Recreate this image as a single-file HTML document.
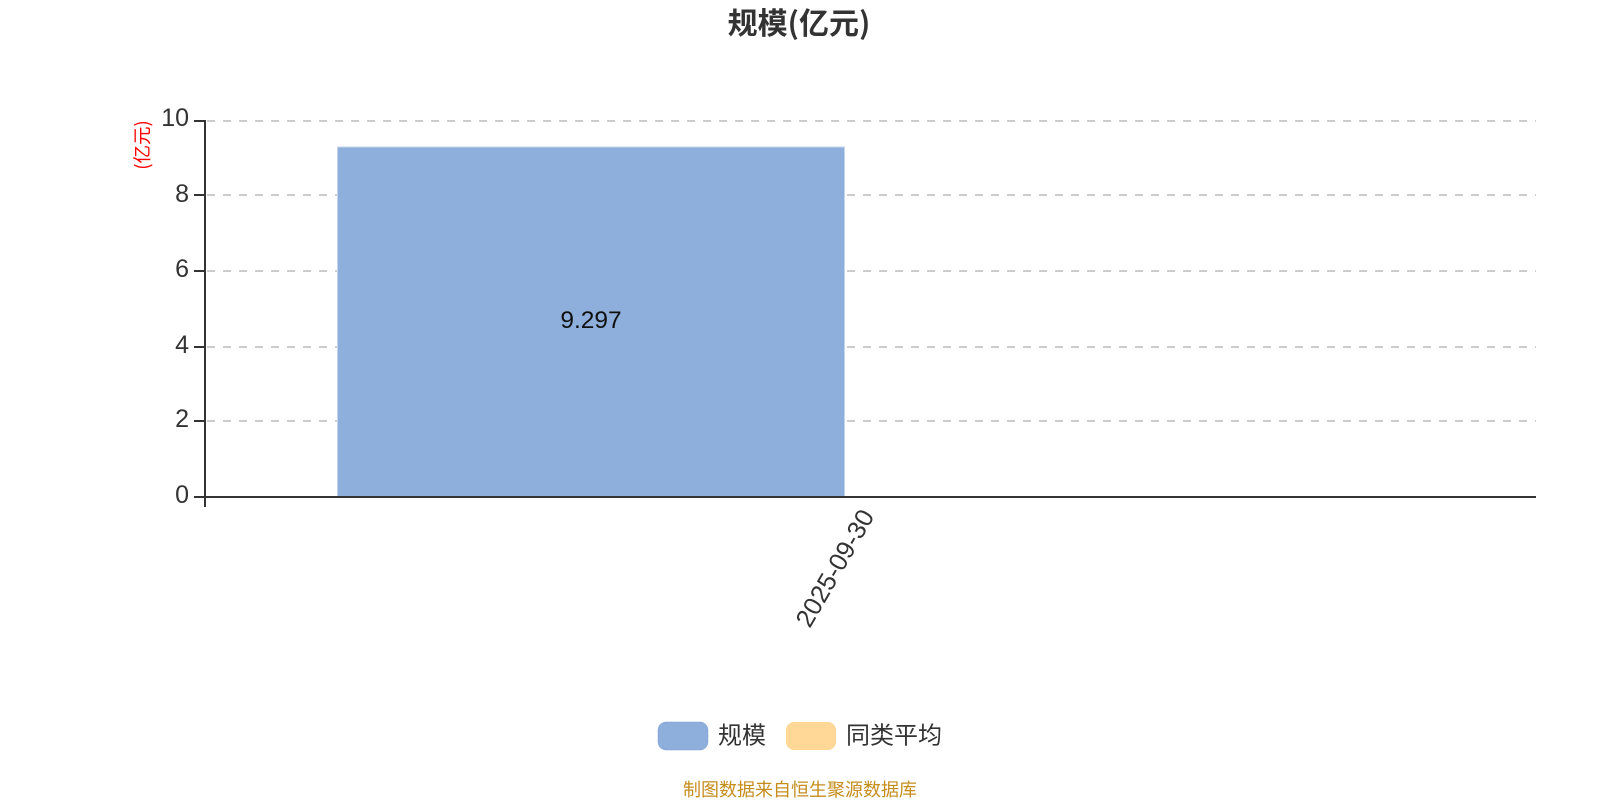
<!DOCTYPE html>
<html><head><meta charset="utf-8"><style>
html,body{margin:0;padding:0;background:#fff;width:1600px;height:800px;overflow:hidden}
svg{display:block}
text{font-family:"Liberation Sans","Noto Sans CJK SC",sans-serif}
.c{font-family:"Noto Sans CJK SC","Liberation Sans",sans-serif}
</style></head><body>
<svg width="1600" height="800" viewBox="0 0 1600 800" xmlns="http://www.w3.org/2000/svg">
<rect width="1600" height="800" fill="#fff"/>
<text class="c" x="799" y="34" font-size="30" font-weight="700" fill="#333" text-anchor="middle">规模(亿元)</text>
<g stroke="#ccc" stroke-width="2" stroke-dasharray="8 8" fill="none">
<path d="M207 121H1536M207 195H1536M207 271H1536M207 347H1536M207 421H1536"/>
</g>
<rect x="337.5" y="147" width="507" height="350" fill="#8eaedb" stroke="#c4d4ec" stroke-width="1"/>
<path d="M205 120V507M194 497H1536" stroke="#333" stroke-width="2" fill="none"/>
<path d="M194 121H205M194 195H205M194 271H205M194 347H205M194 421H205" stroke="#333" stroke-width="2" fill="none"/>
<g font-size="25" fill="#333" text-anchor="end">
<text x="189" y="126">10</text><text x="189" y="202">8</text><text x="189" y="277">6</text><text x="189" y="353">4</text><text x="189" y="427">2</text><text x="189" y="503">0</text>
</g>
<text class="c" font-size="18.5" fill="#f00" text-anchor="middle" transform="translate(149,145) rotate(-90)">(亿元)</text>
<text x="591" y="328" font-size="24.5" fill="#111" text-anchor="middle">9.297</text>
<text font-size="25.5" fill="#333" text-anchor="end" transform="translate(875,516) rotate(-60)">2025-09-30</text>
<rect x="658" y="722" width="50" height="28" rx="8" fill="#8eaedb" stroke="#7d9fd0" stroke-width="0.5"/>
<text class="c" x="718" y="743.5" font-size="24" fill="#333">规模</text>
<rect x="786" y="722" width="50" height="28" rx="8" fill="#ffd898"/>
<text class="c" x="846" y="743.5" font-size="24" fill="#333">同类平均</text>
<text class="c" x="800" y="796" font-size="18" fill="#c58d1c" text-anchor="middle">制图数据来自恒生聚源数据库</text>
</svg>
</body></html>
